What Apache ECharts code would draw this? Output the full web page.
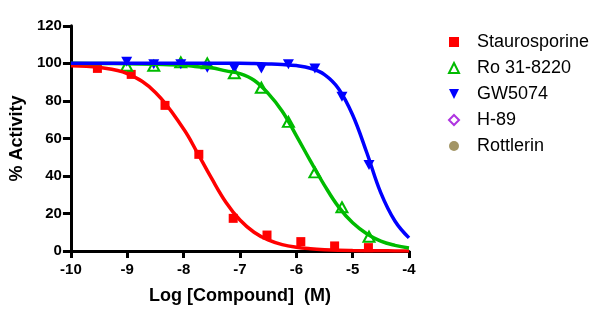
<!DOCTYPE html>
<html>
<head>
<meta charset="utf-8">
<script src="https://cdn.jsdelivr.net/npm/echarts@6/dist/echarts.min.js"></script>
<style>html,body{margin:0;padding:0;background:#fff}#c{width:600px;height:323px}</style>
</head>
<body>
<div id="c"></div>
<script>
// ---- data ----
const seriesNames = ['Staurosporine', 'Ro 31-8220', 'GW5074', 'H-89', 'Rottlerin'];
const xTicks = [-10, -9, -8, -7, -6, -5, -4];
const yTicks = [0, 20, 40, 60, 80, 100, 120];

const stauroX = [-9.53, -8.93, -8.33, -7.73, -7.12, -6.52, -5.92, -5.32, -4.72];
const stauroY = [97.3, 94.1, 77.6, 51.5, 17.4, 8.5, 5.0, 2.7, 1.8];

const roX = [-9.01, -8.53, -8.05, -7.58, -7.10, -6.62, -6.14, -5.67, -5.19, -4.71];
const roY = [98.7, 98.7, 100.5, 100.0, 94.7, 87.0, 68.8, 41.9, 23.3, 7.6];

const gwX = [-9.01, -8.53, -8.05, -7.58, -7.10, -6.62, -6.14, -5.67, -5.19, -4.71];
const gwY = [100.8, 99.5, 99.5, 97.7, 97.3, 97.3, 99.5, 97.3, 82.2, 45.8];

const h89X = [];
const h89Y = [];
const rottX = [];
const rottY = [];

// fitted curves
const fitX = [-10, -9.5, -9, -8.5, -8, -7.75, -7.5, -7.25, -7, -6.75, -6.5, -6.25, -6, -5.75, -5.5, -5.25, -5, -4.75, -4.5, -4.25, -4];
const stauroFit = [98.7, 97.8, 94.5, 84.5, 65, 52, 38.5, 26, 16.5, 10, 5.9, 3.4, 2.0, 1.2, 0.7, 0.4, 0.25, 0.15, 0.1, 0.05, 0.03];
const roFit = [100, 99.9, 99.8, 99.5, 99, 98.2, 97.6, 96, 94.5, 91, 84, 74.5, 61.5, 48, 35, 23.5, 15, 9.2, 5.2, 3, 1.6];
const gwFit = [100, 100, 100, 100, 100, 100, 100, 100, 100, 99.9, 99.7, 99.4, 98.8, 97.4, 94, 86.5, 72.5, 52.5, 31, 16, 7];

const colors = ['#ff0000', '#00bb00', '#0000ff', '#9a00d8', '#8c7b3e'];
const FONT = '"Liberation Sans", Arial, sans-serif';

const pairs = (xs, ys) => xs.map((x, i) => [x, ys[i]]);

function fitLine(name, xs, ys, color) {
  return {
    name: name, type: 'line', data: pairs(xs, ys), smooth: 0.4,
    showSymbol: false, symbol: 'none', silent: true,
    lineStyle: { color: color, width: 3.5 }, itemStyle: { color: color }, clip: true
  };
}

const legendData = seriesNames.map(n => {
  if (n === 'GW5074') return { name: n, icon: 'path://M0,0L10,0L5,10Z' };
  if (n === 'Staurosporine') return { name: n, itemStyle: { color: colors[0] } };
  return { name: n };
});

const chart = echarts.init(document.getElementById('c'), null, { renderer: 'canvas' });
chart.setOption({
  animation: false,
  backgroundColor: '#ffffff',
  grid: { left: 69, right: 191, top: 25.8, bottom: 72, containLabel: false },
  legend: {
    data: legendData,
    orient: 'vertical',
    left: 443, top: 28,
    itemWidth: 10, itemHeight: 10, itemGap: 8,
    textStyle: { fontSize: 18, lineHeight: 18, color: '#000', fontFamily: FONT, padding: [0, 0, 0, 13] }
  },
  xAxis: {
    type: 'value', min: xTicks[0], max: xTicks[xTicks.length - 1], interval: 1,
    name: 'Log [Compound]  (M)', nameLocation: 'middle', nameGap: 36,
    nameTextStyle: { fontSize: 18, fontWeight: 'bold', color: '#000', fontFamily: FONT },
    axisLine: { show: true, onZero: false, lineStyle: { color: '#000', width: 3 } },
    axisTick: { show: true, inside: false, length: 7, lineStyle: { color: '#000', width: 3 } },
    axisLabel: { margin: 11, fontSize: 15, fontWeight: 'bold', color: '#000', fontFamily: FONT },
    splitLine: { show: false }
  },
  yAxis: {
    type: 'value', min: yTicks[0], max: yTicks[yTicks.length - 1], interval: 20,
    name: '% Activity', nameLocation: 'middle', nameGap: 44, nameRotate: 90,
    nameTextStyle: { fontSize: 18, fontWeight: 'bold', color: '#000', fontFamily: FONT },
    axisLine: { show: true, lineStyle: { color: '#000', width: 3 } },
    axisTick: { show: true, inside: false, length: 8, lineStyle: { color: '#000', width: 3 } },
    axisLabel: { margin: 9, fontSize: 15, fontWeight: 'bold', color: '#000', fontFamily: FONT },
    splitLine: { show: false }
  },
  series: [
    fitLine('Staurosporine fit', fitX, stauroFit, colors[0]),
    { name: 'Staurosporine', type: 'scatter', data: pairs(stauroX, stauroY), symbol: 'rect', symbolSize: 9,
      itemStyle: { color: colors[0], opacity: 1 } },
    fitLine('Ro 31-8220 fit', fitX, roFit, colors[1]),
    { name: 'Ro 31-8220', type: 'scatter', data: pairs(roX, roY), symbol: 'triangle', symbolSize: [11, 10],
      itemStyle: { color: '#ffffff', borderColor: colors[1], borderWidth: 2, opacity: 1 } },
    fitLine('GW5074 fit', fitX, gwFit, colors[2]),
    { name: 'GW5074', type: 'scatter', data: pairs(gwX, gwY), symbol: 'triangle', symbolRotate: 180, symbolSize: [11, 10],
      itemStyle: { color: colors[2], opacity: 1 } },
    { name: 'H-89', type: 'scatter', data: pairs(h89X, h89Y), symbol: 'diamond', symbolSize: 10,
      itemStyle: { color: '#ffffff', borderColor: colors[3], borderWidth: 2 } },
    { name: 'Rottlerin', type: 'scatter', data: pairs(rottX, rottY), symbol: 'circle', symbolSize: 9,
      itemStyle: { color: colors[4] } }
  ]
});
</script>
</body>
</html>
